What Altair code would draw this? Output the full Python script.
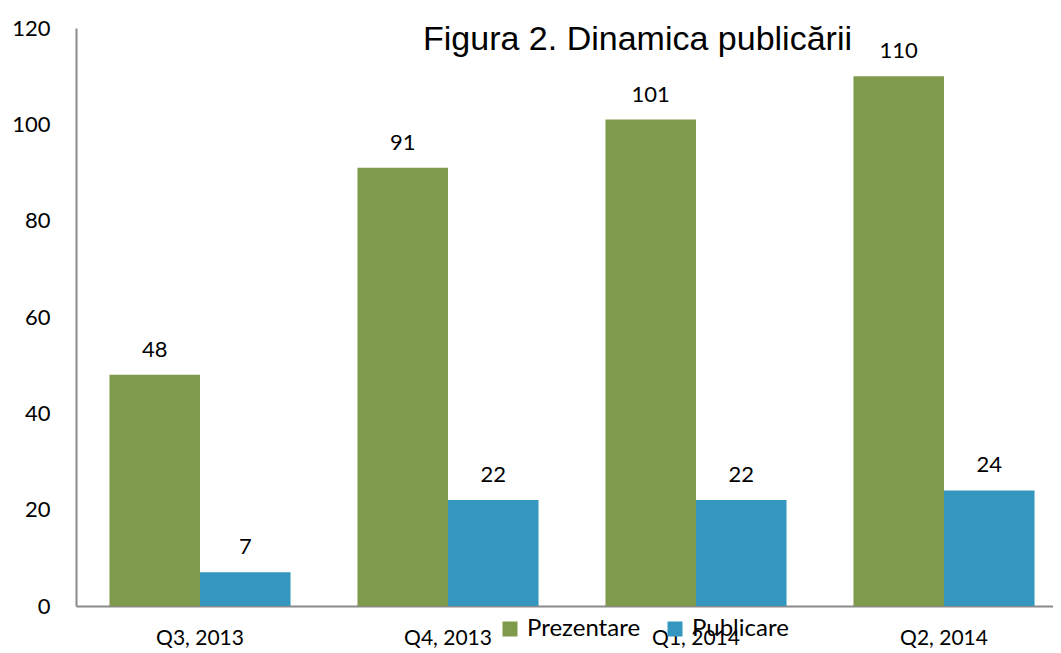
import altair as alt
import pandas as pd

quarters = ["Q3, 2013", "Q4, 2013", "Q1, 2014", "Q2, 2014"]
prezentare = [48, 91, 101, 110]
publicare = [7, 22, 22, 24]
series = ["Prezentare", "Publicare"]
colors = ["#7E9A4A", "#3597BF"]
y_ticks = [0, 20, 40, 60, 80, 100, 120]

rows = []
for q, a, b in zip(quarters, prezentare, publicare):
    rows.append({"q": q, "s": series[0], "v": a})
    rows.append({"q": q, "s": series[1], "v": b})
df = pd.DataFrame(rows)

FONT = "Lato"

x = alt.X(
    "q:N", sort=quarters, title=None,
    scale=alt.Scale(range=[0, 992], paddingInner=0.27, paddingOuter=0.135),
    axis=alt.Axis(labelAngle=0, ticks=False, domainColor="#8a8a8a", domainWidth=2,
                  labelFontSize=21, labelFont=FONT, labelColor="black", labelPadding=21),
)
xo = alt.XOffset("s:N", sort=series)
y = alt.Y(
    "v:Q", title=None,
    scale=alt.Scale(domain=[0, 120], nice=False),
    axis=alt.Axis(values=y_ticks, ticks=False, grid=False, domainColor="#8a8a8a", domainWidth=2,
                  labelFontSize=22, labelFont=FONT, labelColor="black", labelPadding=26),
)

base = alt.Chart(df).encode(x=x, xOffset=xo, y=y)

bars = base.mark_bar().encode(
    color=alt.Color(
        "s:N", scale=alt.Scale(domain=series, range=colors),
        legend=alt.Legend(orient="none", legendX=422, legendY=589, direction="horizontal",
                          title=None, symbolType="square", symbolSize=225, symbolStrokeWidth=0,
                          labelFontSize=24, labelFont=FONT, labelColor="black",
                          labelOffset=5, columnPadding=22, padding=0),
    )
)

labels = base.mark_text(baseline="alphabetic", dy=-18, font=FONT, fontSize=22, color="black").encode(
    text="v:Q"
)

chart = alt.layer(bars, labels).properties(
    width=977, height=578,
    autosize="none",
    padding={"left": 68, "top": 20, "right": 0, "bottom": 45},
    title=alt.TitleParams("Figura 2. Dinamica publicării", font="Liberation Sans", fontSize=34,
                          fontWeight="normal", color="black", anchor="middle", dx=73, dy=67,
                          offset=0, baseline="alphabetic"),
).configure_view(stroke=None)

chart.save("out.html", embed_options={"renderer": "svg", "actions": False})
